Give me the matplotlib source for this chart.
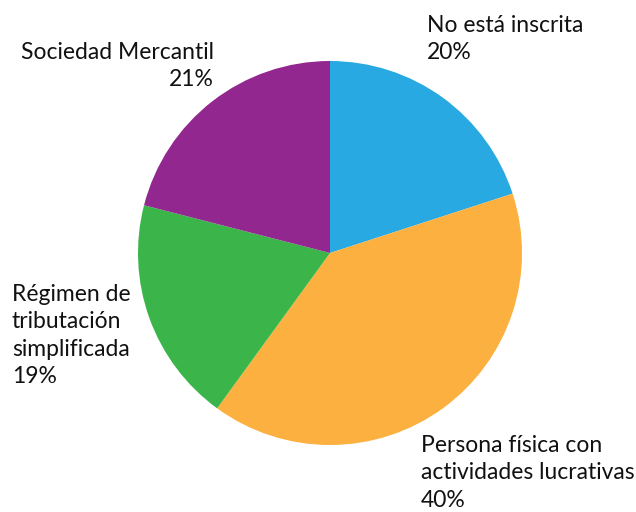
import matplotlib
matplotlib.use("Agg")
import matplotlib.pyplot as plt

labels = ["No está inscrita", "Persona física con\nactividades lucrativas",
          "Régimen de\ntributación\nsimplificada", "Sociedad Mercantil"]
shares = [20, 40, 19, 21]
colors = ["#29A9E1", "#FBB040", "#3BB54A", "#92278F"]

W, H = 636, 512
fig = plt.figure(figsize=(W / 100, H / 100), dpi=100)
ax = fig.add_axes([0, 0, 1, 1])

# pie centre / radius in pixel space (y measured from bottom)
ax.pie(shares, colors=colors, startangle=90, counterclock=False,
       center=(330, H - 253), radius=192, frame=True,
       wedgeprops=dict(linewidth=0))
ax.set_xlim(0, W)
ax.set_ylim(0, H)
ax.set_aspect("equal")
ax.axis("off")

font = dict(family="Lato", fontsize=16.5, color="#111111", linespacing=1.38)
# label anchors: (x, top y in px, ha)
anchors = [(427, 15, "left"), (421, 435, "left"), (12, 284, "left"), (214, 42, "right")]
for lab, v, (x, y, ha) in zip(labels, shares, anchors):
    ax.text(x, H - y, f"{lab}\n{v}%", ha=ha, va="top", multialignment=ha, **font)

plt.savefig("out.png", dpi=100)
